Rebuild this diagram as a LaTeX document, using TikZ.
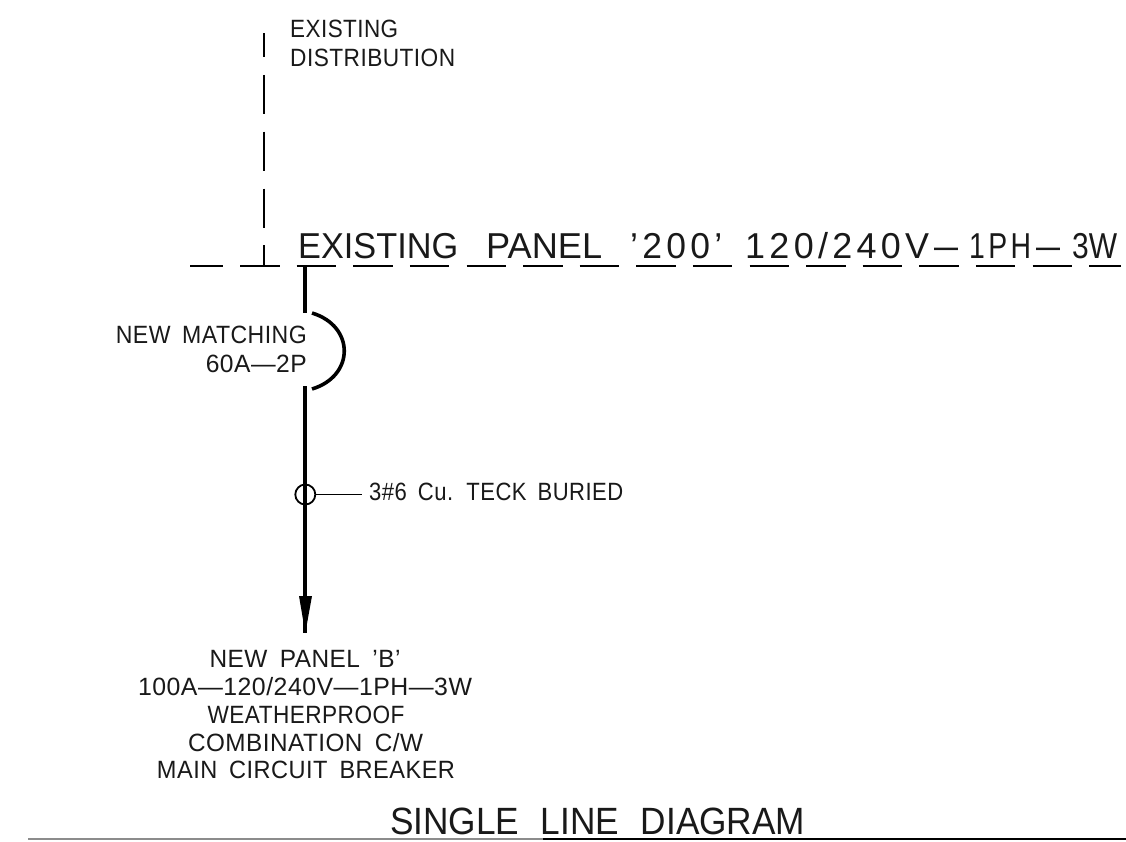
\documentclass[tikz,border=0pt]{standalone}
\usepackage{fontspec}
\setmainfont{Liberation Sans}
\newfontfamily\lblfont[WordSpace=1.7,LetterSpace=2]{Liberation Sans}
\newfontfamily\plainfont{Liberation Sans}
\newfontfamily\spfont[LetterSpace=12]{Liberation Sans}
\newfontfamily\ttlfont[WordSpace=2.2]{Liberation Sans}
\newcommand{\fitw}[2]{\resizebox{#1pt}{\height}{#2}}
\tikzset{
  lbl/.style={inner sep=0pt,font=\lblfont\fontsize{25}{27}\selectfont,text=black!90},
  big/.style={inner sep=0pt,font=\plainfont\fontsize{36}{37}\selectfont,text=black!90},
  ttl/.style={inner sep=0pt,font=\ttlfont\fontsize{38}{38}\selectfont,text=black!90},
  thin line/.style={draw=black,line width=2pt},
  heavy/.style={draw=black,line width=4pt},
}
\begin{document}
\begin{tikzpicture}[x=1pt,y=-1pt]
\useasboundingbox (0,0) rectangle (1126,841);
\fill[white] (0,0) rectangle (1126,841);
\coordinate (busL) at (190,266);
\coordinate (busR) at (1121,266);
\coordinate (busT) at (264,266);
\coordinate (feedT) at (305.3,266);
\coordinate (distTop) at (264,33);
\draw[thin line,dash pattern=on 39.5pt off 17.1pt,dash phase=6.5pt] (busL) -- (busR);
\draw[thin line,line width=1.8pt,dash pattern=on 39pt off 17.85pt,dash phase=15pt] (distTop) -- (busT);
\coordinate (brkA) at (305.3,313);
\coordinate (brkB) at (305.3,386);
\coordinate (tip) at (305.3,633);
\node[circle,draw=black,line width=1.8pt,minimum size=20pt,inner sep=0pt] (ct) at (305.3,494.5) {};
\coordinate (leadEnd) at (362,494.5);
\draw[heavy] (feedT) -- (brkA);
\draw[heavy] (brkB) -- (tip);
\draw[line width=3.6pt] (312,313) .. controls (355,326) and (355,376) .. (312,389);
\fill[black] (tip) -- (299,596) -- (312,596) -- cycle;
\node[lbl,anchor=base west] (tk) at (369,500) {\fitw{254}{3\#6 Cu. TECK BURIED}};
\draw[thin line,line width=1.8pt] (ct.east) -- (leadEnd);
\node[lbl,anchor=base west] (ed) at (290,37) {\fitw{108}{EXISTING}};
\node[lbl,anchor=base west] (ed2) at (290,66) {\fitw{165}{DISTRIBUTION}};
\node[big,anchor=base west] (pn) at (298,258) {\fitw{160}{EXISTING}\hspace{28pt}\fitw{116}{PANEL}\hspace{28pt}\fitw{92}{\spfont ’200’}\hspace{23pt}\fitw{184}{\spfont 120/240V}\hspace{5pt}\fitw{24}{—}\hspace{11pt}\fitw{62}{\spfont 1PH}\hspace{5pt}\fitw{24}{—}\hspace{12pt}\fitw{45}{3W}};
\node[lbl,anchor=base east] (nm) at (307,343) {\fitw{191}{NEW MATCHING}};
\node[lbl,anchor=base east] (nm2) at (307,372) {\fitw{101}{60A—2P}};
\node[lbl,anchor=base] (a) at (305,667) {\fitw{191}{NEW PANEL ’B’}};
\node[lbl,anchor=base] (b) at (305,695) {\fitw{334}{100A—120/240V—1PH—3W}};
\node[lbl,anchor=base] (c) at (306,723) {\fitw{197}{WEATHERPROOF}};
\node[lbl,anchor=base] (d) at (305.5,751) {\fitw{235}{COMBINATION C/W}};
\node[lbl,anchor=base] (e) at (306,778) {\fitw{298}{MAIN CIRCUIT BREAKER}};
\node[ttl,anchor=base west] (t) at (390,834) {\fitw{415}{SINGLE LINE DIAGRAM}};
\coordinate (rL) at (28,839);
\coordinate (rM) at (543,839);
\coordinate (rR) at (1126,839);
\draw[black!45,line width=1.6pt] (rL) -- (rM);
\draw[black,line width=2pt] (rM) -- (rR);
\end{tikzpicture}
\end{document}
